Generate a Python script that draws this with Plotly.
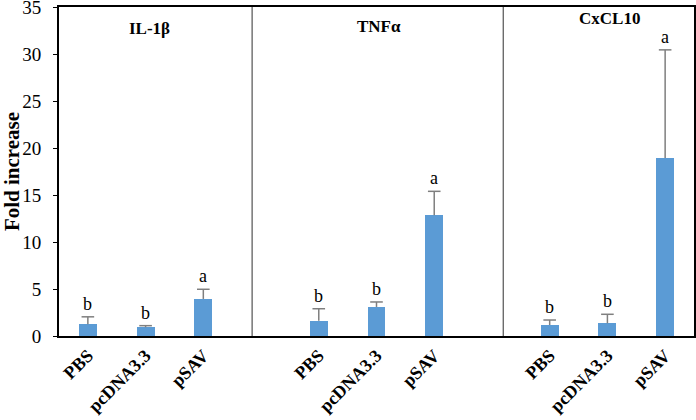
import plotly.graph_objects as go

# 数据
groups = ["IL-1β", "TNFα", "CxCL10"]
treatments = ["PBS", "pcDNA3.3", "pSAV"]
il1b_mean = [1.24, 0.93, 3.94]
il1b_err = [0.80, 0.17, 1.03]
tnfa_mean = [1.63, 3.09, 12.84]
tnfa_err = [1.27, 0.53, 2.55]
cxcl10_mean = [1.17, 1.35, 18.94]
cxcl10_err = [0.53, 0.96, 11.50]
letters = [["b", "b", "a"], ["b", "b", "a"], ["b", "b", "a"]]
y_ticks = [0, 5, 10, 15, 20, 25, 30, 35]

means = [il1b_mean, tnfa_mean, cxcl10_mean]
errs = [il1b_err, tnfa_err, cxcl10_err]

SERIF = "Liberation Serif, Times New Roman, serif"
BLUE = "#5b9bd5"
ERR = "#7f7f7f"

# 每组3根柱 + 1个空位
xs, ys, es, labels, txt = [], [], [], [], []
for g in range(len(groups)):
    for i, t in enumerate(treatments):
        xs.append(g * 4 + i)
        ys.append(means[g][i])
        es.append(errs[g][i])
        labels.append(t)
        txt.append(letters[g][i])

tops = [y + e for y, e in zip(ys, es)]

fig = go.Figure()
fig.add_trace(go.Bar(
    x=xs, y=ys,
    width=0.31,
    marker=dict(color=BLUE, line=dict(width=0)),
    showlegend=False,
    hoverinfo="skip",
))

# 误差线（只画上半部分，底端不加横线）
fig.add_trace(go.Scatter(
    x=xs, y=tops, mode="markers",
    marker=dict(symbol="line-ew", size=9, line=dict(color=ERR, width=1.5)),
    error_y=dict(type="data", symmetric=False, array=[0] * len(es),
                 arrayminus=es, color=ERR, thickness=1.5, width=0),
    showlegend=False, hoverinfo="skip",
))

# 显著性字母
for x, t, s in zip(xs, tops, txt):
    fig.add_annotation(x=x, y=t, text=s, showarrow=False,
                       yanchor="bottom", yshift=1,
                       font=dict(family=SERIF, size=18, color="black"))

# 分组标题
title_pos = [(1.06, 32.75), (5.04, 32.9), (9.03, 33.8)]
for (tx, ty), name in zip(title_pos, groups):
    fig.add_annotation(x=tx, y=ty, text="<b>%s</b>" % name, showarrow=False,
                       font=dict(family=SERIF, size=17, color="black"))

# 分隔线
for dx in [2.845, 7.195]:
    fig.add_shape(type="line", x0=dx, x1=dx, y0=0, y1=35, xref="x", yref="y",
                  line=dict(color="#303030", width=1))

fig.update_layout(
    width=696, height=420,
    margin=dict(l=59, r=2, t=7, b=84),
    plot_bgcolor="white", paper_bgcolor="white",
    font=dict(family=SERIF, color="black"),
    bargap=0,
)
fig.update_xaxes(
    range=[-0.5, 10.5], automargin=False,
    tickvals=xs, ticktext=["<b>%s</b>" % l for l in labels],
    tickangle=-45, tickfont=dict(family=SERIF, size=18, color="black"),
    ticklabeloverflow="allow",
    showgrid=False, zeroline=False,
    showline=True, linecolor="black", linewidth=2, mirror=True,
    ticks="",
)
fig.update_yaxes(
    range=[0, 35], tickvals=y_ticks, automargin=False,
    tickfont=dict(family=SERIF, size=19, color="black"),
    ticklabeloverflow="allow",
    ticks="outside", ticklen=4, tickcolor="black", tickwidth=1,
    ticklabelstandoff=8,
    showgrid=False, zeroline=False,
    showline=True, linecolor="black", linewidth=2, mirror=True,
    title=dict(text="<b>Fold increase</b>", standoff=6,
               font=dict(family=SERIF, size=21, color="black")),
)

fig.write_html("out.html", config={"displayModeBar": False},
               post_script="document.body.style.margin='0';")
